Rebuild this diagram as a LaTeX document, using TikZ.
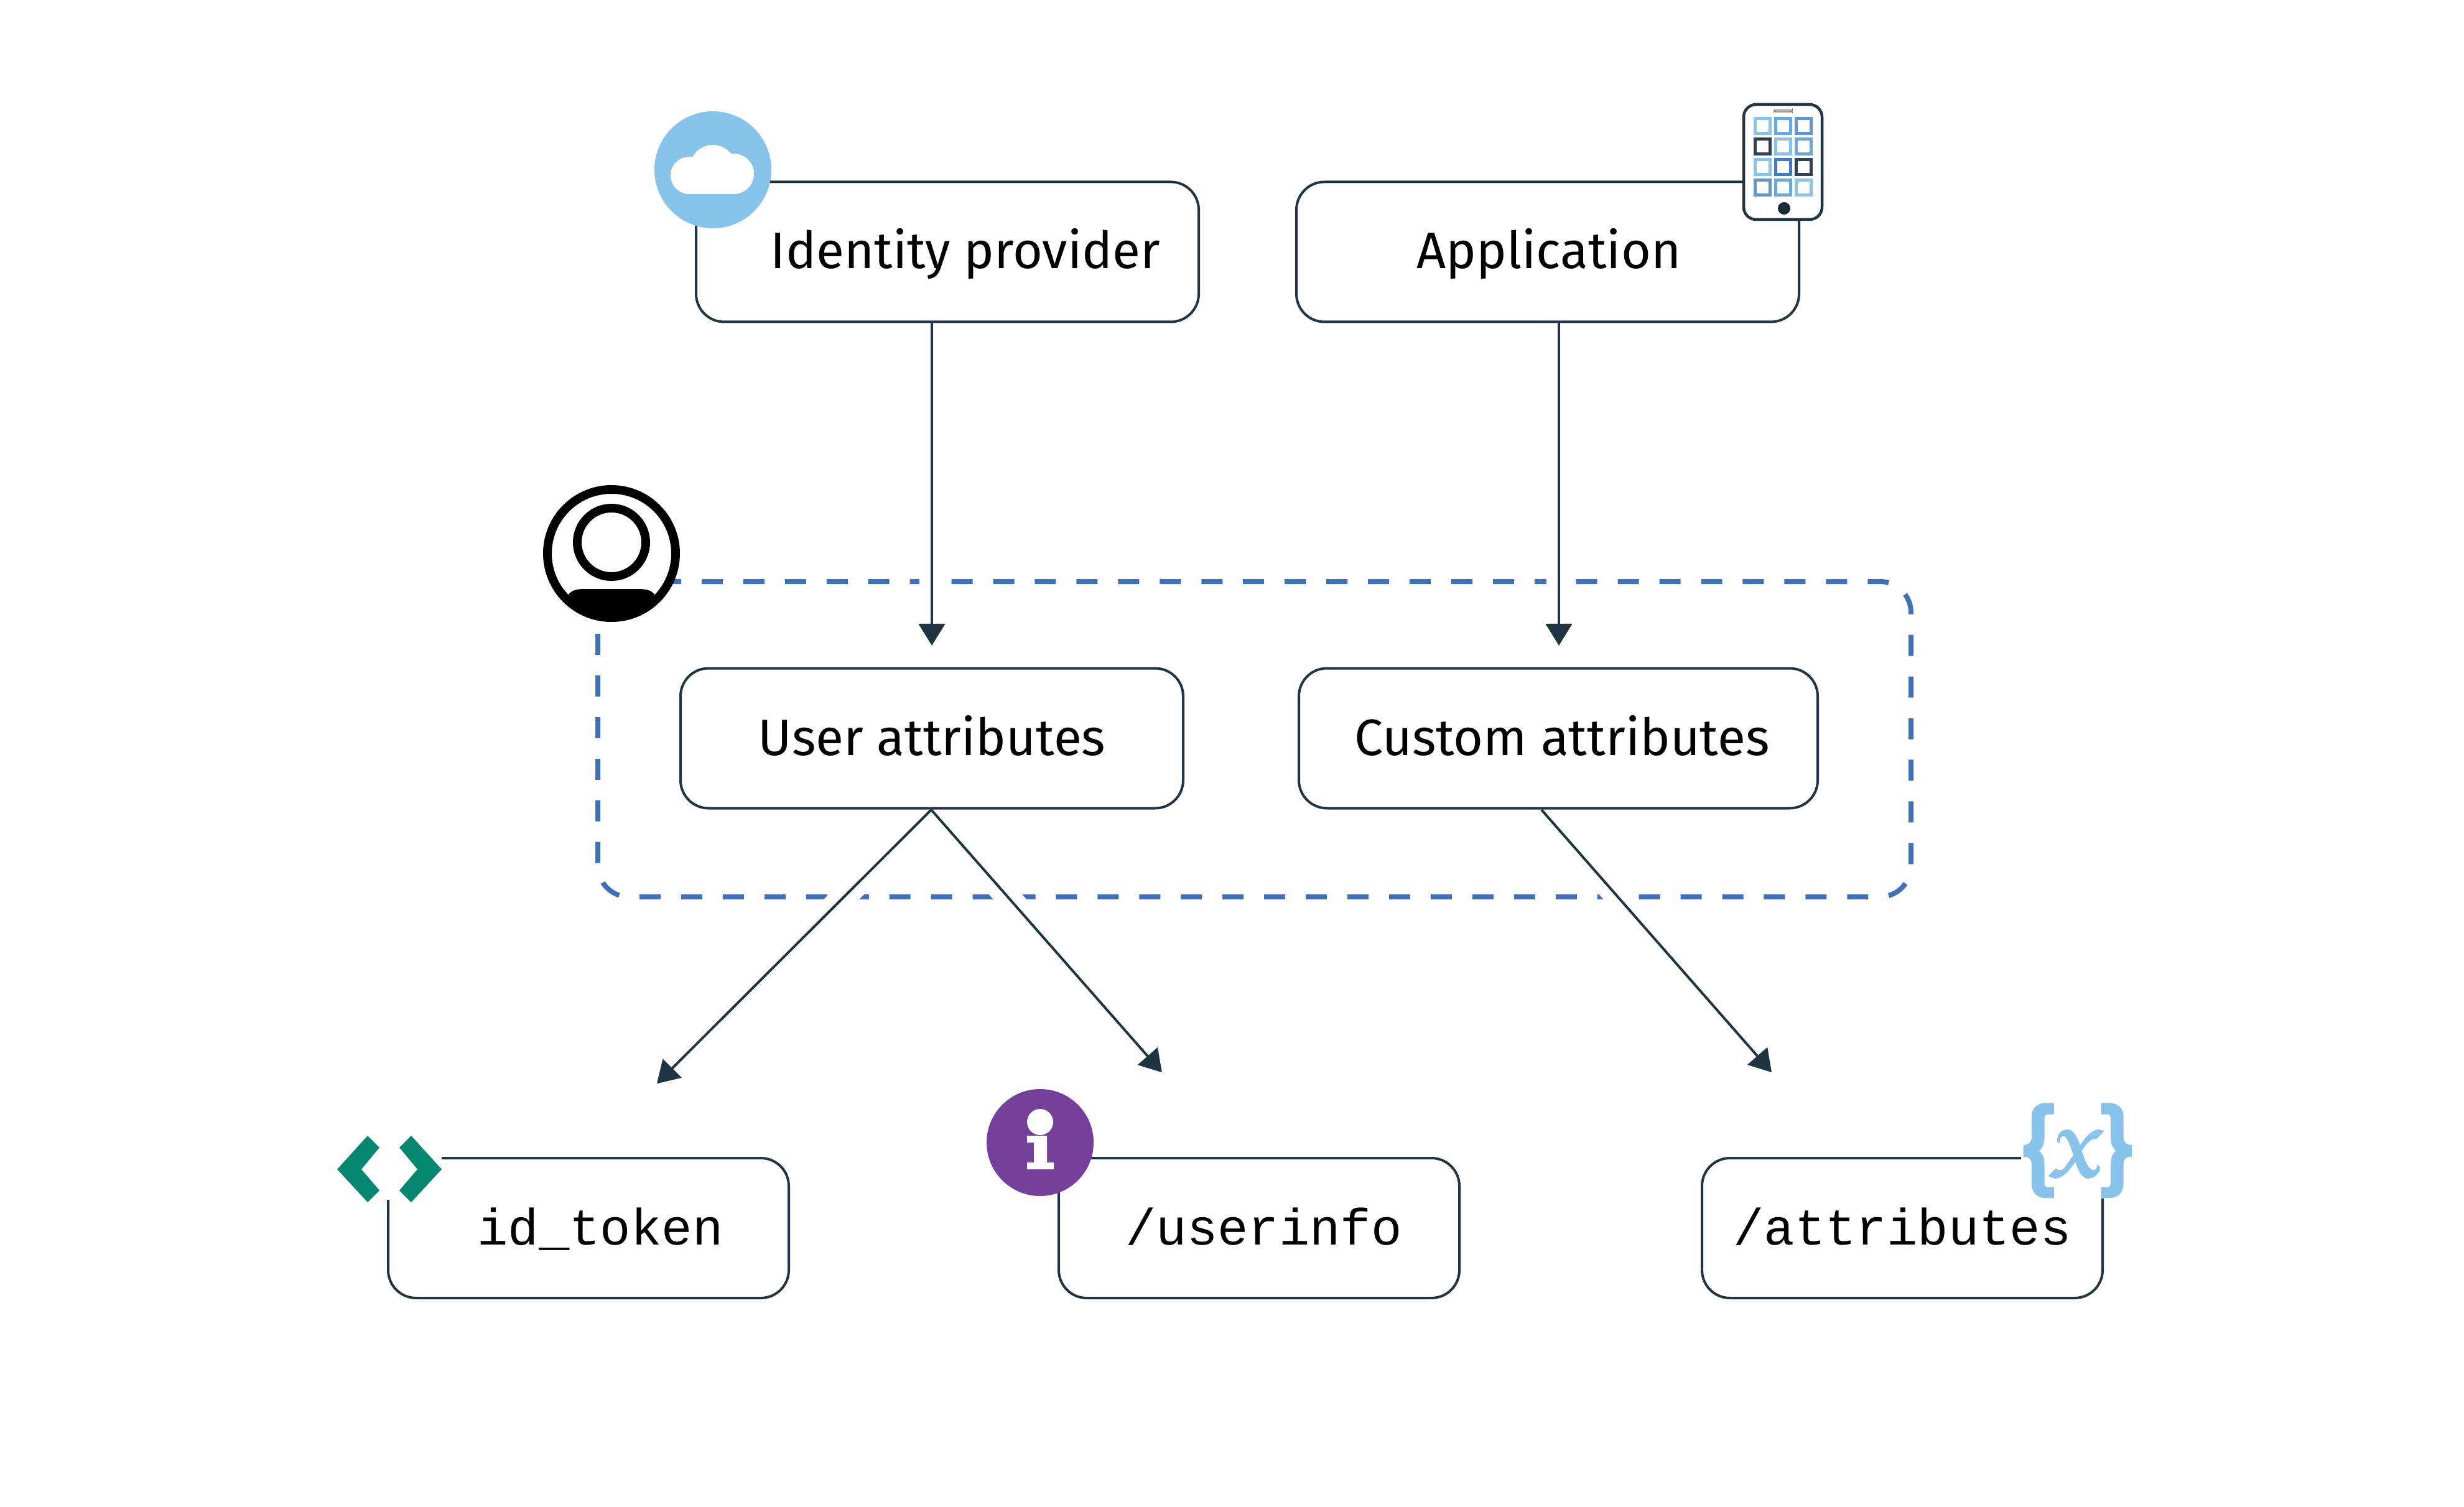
\documentclass[tikz,border=0pt]{standalone}
\usepackage{fontspec}
\setmainfont{Fira Sans}
\setmonofont{Liberation Mono}
\usepackage{xcolor}
\usetikzlibrary{arrows.meta,positioning,calc}
\definecolor{ink}{RGB}{31,53,65}
\definecolor{dashblue}{RGB}{64,112,181}
\definecolor{skyblue}{RGB}{135,195,234}
\definecolor{midblue}{RGB}{107,168,219}
\definecolor{deepblue}{RGB}{95,149,210}
\definecolor{royalblue}{RGB}{68,121,190}
\definecolor{slate}{RGB}{51,66,78}
\definecolor{teal}{RGB}{4,134,113}
\definecolor{plum}{RGB}{116,64,153}

\begin{document}
\begin{tikzpicture}[
  block/.style={rectangle,rounded corners=4.5mm,draw=ink,line width=0.04cm,fill=white,align=center,minimum height=2.25cm,text height=0.74cm,text depth=0.2cm,font=\fontsize{23.4}{28}\selectfont},
  wide/.style={block,minimum width=8.08cm},
  wider/.style={block,minimum width=8.34cm},
  endpoint/.style={block,minimum width=6.44cm,font=\fontsize{23.4}{28}\selectfont\ttfamily},
  arrow/.style={-{Triangle[length=0.35cm,width=0.42cm]},draw=ink,line width=0.04cm},
  halo/.style={draw=white,line width=0.4cm},
  appsquare/.style={draw=#1,line width=0.05cm}
]
\useasboundingbox (0,0) rectangle (39.61,-24.23);
% group around the attributes
\draw[dashblue,line width=0.08cm,dash pattern=on 0.34cm off 0.3294cm,rounded corners=5mm] (10.11,-9.35) -- (30.72,-9.35) -- (30.72,-14.42) -- (9.61,-14.42) -- (9.61,-9.35) -- cycle;
\coordinate (idpfoot) at (14.98,-5.18);
\coordinate (appfoot) at (25.06,-5.18);
\coordinate (userin) at (14.98,-10.76);
\coordinate (customin) at (25.06,-10.76);
\coordinate (userfoot) at (14.97,-13.02);
\coordinate (customfoot) at (24.78,-13.02);
\coordinate (tokentop) at (9.37,-18.61);
\coordinate (infotop) at (19.88,-18.61);
\coordinate (attrtop) at (29.68,-18.61);
\def\links{idpfoot/userin/0.38,appfoot/customin/0.38,userfoot/tokentop/1.68,userfoot/infotop/1.82,customfoot/attrtop/1.82}
\foreach \from/\to/\gap in \links
  \draw[halo,shorten >=\gap cm] (\from) -- (\to);
\foreach \from/\to/\gap in \links
  \draw[arrow,shorten >=\gap cm] (\from) -- (\to);
% boxes
\node[wide] (idp) at (15.23,-4.05) {\hspace*{0.58cm}Identity provider};
\node[wide,right=1.53cm of idp] (app) {\hspace*{0.04cm}Application};
\node[wide,below=5.53cm of idp,xshift=-0.25cm] (user) {User attributes};
\node[wider,below=5.53cm of app,xshift=0.17cm] (custom) {\hspace*{0.12cm}Custom attributes};
\node[endpoint] (token) at (9.46,-19.745) {\hspace*{0.38cm}id\_token};
\node[endpoint,right=4.3cm of token] (info) {\hspace*{0.15cm}/userinfo};
\node[endpoint,right=3.86cm of info] (attr) {/attributes};
% cloud badge
\fill[skyblue] (11.46,-2.73) circle (0.94);
\fill[white] (11.08,-2.82) circle (0.30);
\fill[white] (11.46,-2.70) circle (0.37);
\fill[white] (11.795,-2.795) circle (0.325);
\fill[white] (11.08,-3.12) rectangle (11.795,-2.6);
% phone
\draw[ink,line width=0.045cm,fill=white,rounded corners=2mm] (28.03,-1.68) rectangle (29.29,-3.53);
\draw[gray,line width=0.015cm,fill=white,rounded corners=0.2mm] (28.52,-1.77) rectangle (28.81,-1.8);
\foreach \col/\row/\shade in {0/0/skyblue,1/0/midblue,2/0/deepblue,0/1/slate,1/1/skyblue,2/1/midblue,0/2/skyblue,1/2/royalblue,2/2/slate,0/3/deepblue,1/3/midblue,2/3/skyblue}
  \draw[appsquare=\shade] ({28.215+0.33*\col},{-1.905-0.33*\row}) rectangle ++(0.24,-0.24);
\fill[ink!80!black] (28.68,-3.35) circle (0.1);
% person badge
\draw[black,line width=0.14cm,fill=white] (9.83,-8.90) circle (1.03);
\draw[black,line width=0.14cm] (9.83,-8.72) circle (0.55);
\fill[black] (9.13,-9.57) .. controls (9.2,-9.47) and (9.3,-9.47) .. (9.45,-9.47) -- (10.21,-9.47) .. controls (10.36,-9.47) and (10.46,-9.47) .. (10.53,-9.57) arc[start angle=-43.7,end angle=-136.3,radius=0.97] -- cycle;
% chevrons
\fill[white] (5.42,-18.26) rectangle (7.10,-19.29);
\fill[teal] (5.91,-18.26) -- (5.42,-18.80) -- (5.91,-19.33) -- (6.10,-19.14) -- (5.81,-18.80) -- (6.10,-18.45) -- cycle;
\fill[teal] (6.61,-18.26) -- (7.10,-18.80) -- (6.61,-19.33) -- (6.42,-19.14) -- (6.71,-18.80) -- (6.42,-18.45) -- cycle;
% info badge
\fill[plum] (16.72,-18.37) circle (0.86);
\fill[white] (16.72,-18.04) circle (0.21);
\fill[white] (16.51,-18.26) -- (16.83,-18.26) -- (16.83,-18.69) -- (16.94,-18.69) -- (16.94,-18.80) -- (16.51,-18.80) -- (16.51,-18.69) -- (16.62,-18.69) -- (16.62,-18.37) -- (16.51,-18.37) -- cycle;
% braces badge
\fill[white] (32.49,-17.73) rectangle (34.30,-19.27);
\begin{scope}[shift={(32,-17.4)},x=0.003333cm,y=-0.003333cm]
  \foreach \flip in {1,-1}
    \fill[skyblue,xshift={(\flip-1)*(-420)*0.003333cm}] [x={\flip*0.003333cm}]
      (306,100) -- (270,100) .. controls (225,100) and (198,125) .. (198,165) -- (198,265) .. controls (198,290) and (185,303) .. (158,303) -- (158,360) .. controls (185,360) and (198,372) .. (198,395) -- (198,490) .. controls (198,535) and (225,560) .. (270,560) -- (306,560) -- (306,508) -- (280,508) .. controls (266,508) and (260,502) .. (260,490) -- (260,395) .. controls (260,365) and (250,345) .. (235,332) .. controls (250,318) and (260,298) .. (260,270) -- (260,175) .. controls (260,162) and (266,155) .. (280,155) -- (306,155) -- cycle;
  \fill[skyblue] (278,453) -- (316,416) .. controls (325,428) and (345,430) .. (358,412) -- (400,352) .. controls (385,310) and (370,262) .. (352,260) .. controls (335,262) and (330,285) .. (338,298) -- (322,288) .. controls (318,250) and (345,228) .. (372,228) .. controls (400,228) and (422,270) .. (432,305) .. controls (460,265) and (490,228) .. (525,228) -- (548,236) -- (512,275) .. controls (490,268) and (462,295) .. (440,332) .. controls (455,375) and (470,420) .. (495,425) .. controls (510,425) and (518,412) .. (513,398) -- (530,410) .. controls (530,440) and (500,466) .. (470,466) .. controls (440,466) and (420,420) .. (410,385) .. controls (385,420) and (350,466) .. (310,466) -- cycle;
\end{scope}
\end{tikzpicture}
\end{document}
